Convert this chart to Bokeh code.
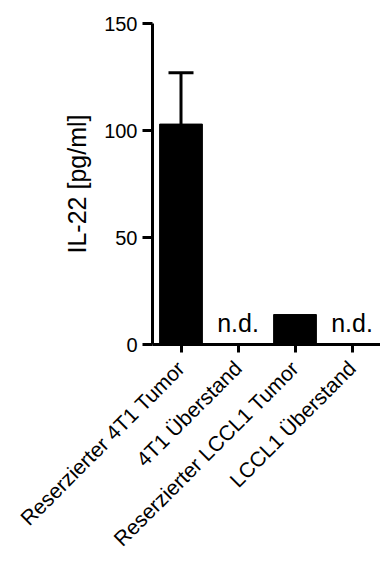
import math
from bokeh.plotting import figure
from bokeh.models import ColumnDataSource, Whisker, TeeHead, FixedTicker, Range1d
from bokeh.core.properties import value
from bokeh.embed import file_html
from bokeh.resources import INLINE

categories = ["Reserzierter 4T1 Tumor", "4T1 Überstand", "Reserzierter LCCL1 Tumor", "LCCL1 Überstand"]
means = [103, None, 14, None]          # None = not detected (n.d.)
sem = [24, None, 0, None]
y_ticks = [0, 50, 100, 150]
y_label = "IL-22 [pg/ml]"
nd_text = "n.d."

FONT = "Liberation Sans"

bar_cats = [c for c, m in zip(categories, means) if m is not None]
bar_vals = [m for m in means if m is not None]
bar_src = ColumnDataSource(dict(x=bar_cats, top=bar_vals))

err_cats = [c for c, m, e in zip(categories, means, sem) if m is not None and e]
err_src = ColumnDataSource(dict(
    x=err_cats,
    base=[m for m, e in zip(means, sem) if m is not None and e],
    upper=[m + e for m, e in zip(means, sem) if m is not None and e],
))

nd_src = ColumnDataSource(dict(
    x=[c for c, m in zip(categories, means) if m is None],
    y=[0 for m in means if m is None],
    text=[nd_text for m in means if m is None],
))

p = figure(x_range=categories, y_range=Range1d(0, 150),
           width=380, height=561, output_backend="svg", toolbar_location=None,
           min_border_left=152, min_border_right=0, min_border_top=23, min_border_bottom=10)
p.x_range.range_padding = 0

p.vbar(x="x", top="top", width=0.75, source=bar_src, fill_color="black", line_color="black")

w = Whisker(source=err_src, dimension="height", base="x", upper="upper", lower="base",
            line_width=3, line_color="black",
            upper_head=TeeHead(size=25, line_width=3, line_color="black"),
            lower_head=None)
p.add_layout(w)

p.text(x="x", y="y", text="text", source=nd_src, text_align="center", text_baseline="bottom",
       y_offset=-8, text_font=value(FONT), text_font_size="25px", text_color="black")

p.outline_line_color = None
p.xgrid.grid_line_color = None
p.ygrid.grid_line_color = None
p.background_fill_color = "white"
p.border_fill_color = "white"

p.yaxis.ticker = FixedTicker(ticks=y_ticks)
p.yaxis.minor_tick_line_color = None
p.yaxis.axis_label = y_label
p.yaxis.axis_label_text_font = FONT
p.yaxis.axis_label_text_font_style = "normal"
p.yaxis.axis_label_text_font_size = "25px"
p.yaxis.axis_label_standoff = 10
p.yaxis.major_label_text_font = FONT
p.yaxis.major_label_text_font_size = "20px"
p.yaxis.major_label_standoff = 5
p.yaxis.major_tick_out = 10
p.yaxis.major_tick_in = 0

p.xaxis.major_label_orientation = math.pi / 4
p.xaxis.major_label_text_font = FONT
p.xaxis.major_label_text_font_size = "21px"
p.xaxis.major_label_standoff = 12
p.xaxis.major_tick_out = 8
p.xaxis.major_tick_in = 0

for ax in (p.xaxis, p.yaxis):
    ax.axis_line_width = 3
    ax.major_tick_line_width = 3
    ax.axis_line_color = "black"
    ax.major_tick_line_color = "black"
    ax.major_label_text_color = "black"
    ax.axis_label_text_color = "black"

open("out.html", "w").write(file_html(p, INLINE))
